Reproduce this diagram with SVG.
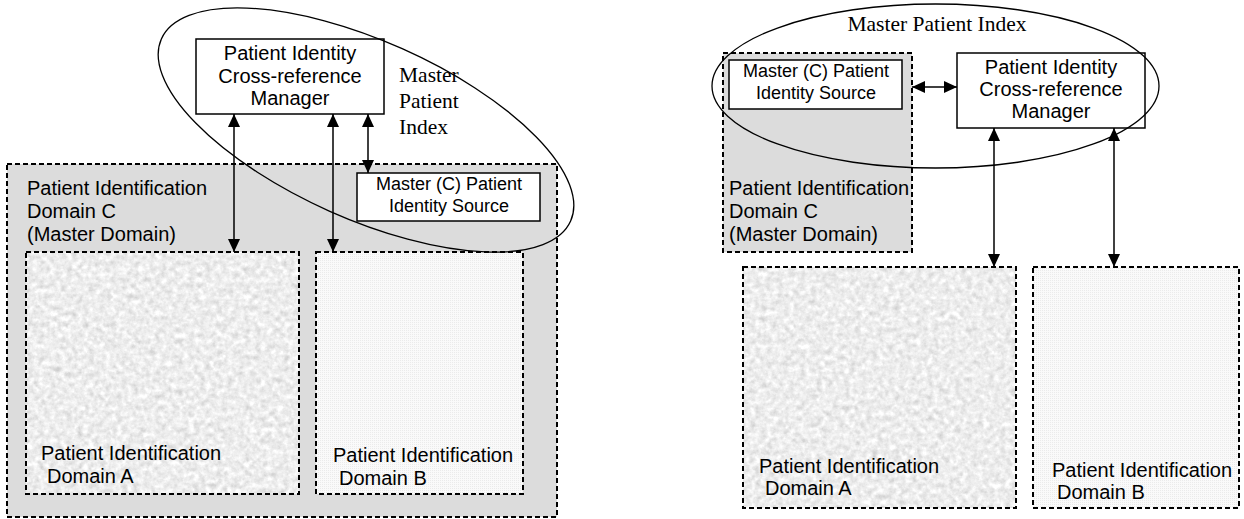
<svg xmlns="http://www.w3.org/2000/svg" width="1244" height="519" viewBox="0 0 1244 519">
<style>
  .box{fill:#fff;stroke:#000;stroke-width:1.5}
  .dash{fill:none;stroke:#000;stroke-width:2;stroke-dasharray:5 3}
  .gray{fill:#dcdcdc}
  .sans{font-family:"Liberation Sans",Arial,sans-serif;fill:#000}
  .t20{font-size:20px}
  .t18{font-size:18px}
  .serif{font-family:"Liberation Serif","Times New Roman",serif;font-size:21.5px;fill:#000}
  .ell{fill:none;stroke:#000;stroke-width:1.3}
  .con{stroke:#000;stroke-width:1.5;fill:none;marker-start:url(#ah);marker-end:url(#ah)}
</style>
<defs>
  <marker id="ah" viewBox="0 0 10 10" refX="10" refY="5" markerUnits="userSpaceOnUse" markerWidth="13" markerHeight="12" preserveAspectRatio="none" orient="auto-start-reverse">
    <path d="M0,0 L10,5 L0,10 z" fill="#000"/>
  </marker>
  <filter id="mottle" x="0" y="0" width="100%" height="100%" color-interpolation-filters="sRGB">
    <feTurbulence type="fractalNoise" baseFrequency="0.18" numOctaves="3" seed="4"/>
    <feColorMatrix type="matrix" values="0.14 0.14 0.14 0 0.72  0.14 0.14 0.14 0 0.72  0.14 0.14 0.14 0 0.72  0 0 0 0 1"/>
  </filter>
  <pattern id="dots" width="2" height="2" patternUnits="userSpaceOnUse">
    <rect width="2" height="2" fill="#fafafa"/>
    <rect width="1" height="1" fill="#ebebeb"/>
  </pattern>
</defs>

<!-- LEFT DIAGRAM -->
<g id="left-domain-c">
  <rect class="gray" x="7" y="164" width="550" height="353"/>
  <rect class="dash" x="7" y="164" width="550" height="353"/>
  <text class="sans t20" x="27" y="195">Patient Identification</text>
  <text class="sans t20" x="27" y="218">Domain C</text>
  <text class="sans t20" x="27" y="241">(Master Domain)</text>
</g>
<g id="left-domain-a">
  <rect x="26" y="252" width="273" height="242" fill="#fff" filter="url(#mottle)"/>
  <rect class="dash" x="26" y="252" width="273" height="242"/>
  <text class="sans t20" x="41" y="460">Patient Identification</text>
  <text class="sans t20" x="47" y="483">Domain A</text>
</g>
<g id="left-domain-b">
  <rect x="316" y="252" width="207" height="242" fill="url(#dots)"/>
  <rect class="dash" x="316" y="252" width="207" height="242"/>
  <text class="sans t20" x="333" y="462">Patient Identification</text>
  <text class="sans t20" x="339" y="485">Domain B</text>
</g>
<g id="left-crm">
  <rect class="box" x="196" y="39" width="188" height="75"/>
  <text class="sans t20" x="290" y="60" text-anchor="middle">Patient Identity</text>
  <text class="sans t20" x="290" y="83" text-anchor="middle">Cross-reference</text>
  <text class="sans t20" x="290" y="105" text-anchor="middle">Manager</text>
</g>
<g id="left-source">
  <rect class="box" x="357" y="173" width="183" height="48"/>
  <text class="sans t18" x="449" y="190" text-anchor="middle">Master (C) Patient</text>
  <text class="sans t18" x="449" y="212" text-anchor="middle">Identity Source</text>
</g>
<g id="left-mpi">
  <ellipse class="ell" cx="366" cy="130" rx="224" ry="89" transform="rotate(24 366 130)"/>
  <text class="serif" x="399" y="82">Master</text>
  <text class="serif" x="399" y="108">Patient</text>
  <text class="serif" x="399" y="134">Index</text>
</g>

<!-- RIGHT DIAGRAM -->
<g id="right-domain-c">
  <rect class="gray" x="723" y="53" width="189" height="199"/>
  <rect class="dash" x="723" y="53" width="189" height="199"/>
  <text class="sans t20" x="729" y="195">Patient Identification</text>
  <text class="sans t20" x="729" y="218">Domain C</text>
  <text class="sans t20" x="729" y="241">(Master Domain)</text>
</g>
<g id="right-source">
  <rect class="box" x="729" y="60" width="173" height="49"/>
  <text class="sans t18" x="816" y="77" text-anchor="middle">Master (C) Patient</text>
  <text class="sans t18" x="816" y="99" text-anchor="middle">Identity Source</text>
</g>
<g id="right-crm">
  <rect class="box" x="957" y="53" width="188" height="75"/>
  <text class="sans t20" x="1051" y="74" text-anchor="middle">Patient Identity</text>
  <text class="sans t20" x="1051" y="96" text-anchor="middle">Cross-reference</text>
  <text class="sans t20" x="1051" y="118" text-anchor="middle">Manager</text>
</g>
<g id="right-domain-a">
  <rect x="743" y="267" width="273" height="241" fill="#fff" filter="url(#mottle)"/>
  <rect class="dash" x="743" y="267" width="273" height="241"/>
  <text class="sans t20" x="759" y="473">Patient Identification</text>
  <text class="sans t20" x="765" y="495">Domain A</text>
</g>
<g id="right-domain-b">
  <rect x="1033" y="267" width="206" height="241" fill="url(#dots)"/>
  <rect class="dash" x="1033" y="267" width="206" height="241"/>
  <text class="sans t20" x="1052" y="477">Patient Identification</text>
  <text class="sans t20" x="1057" y="499">Domain B</text>
</g>
<g id="right-mpi">
  <ellipse class="ell" cx="935.5" cy="86" rx="223.5" ry="82"/>
  <text class="serif" x="937" y="31" text-anchor="middle">Master Patient Index</text>
</g>

<g id="connectors">
  <line class="con" x1="234" y1="114" x2="234" y2="252"/>
  <line class="con" x1="333" y1="114" x2="333" y2="252"/>
  <line class="con" x1="368" y1="114" x2="368" y2="173"/>
  <line class="con" x1="912" y1="87" x2="957" y2="87"/>
  <line class="con" x1="994" y1="128" x2="994" y2="267"/>
  <line class="con" x1="1114" y1="128" x2="1114" y2="267"/>
</g>
</svg>
